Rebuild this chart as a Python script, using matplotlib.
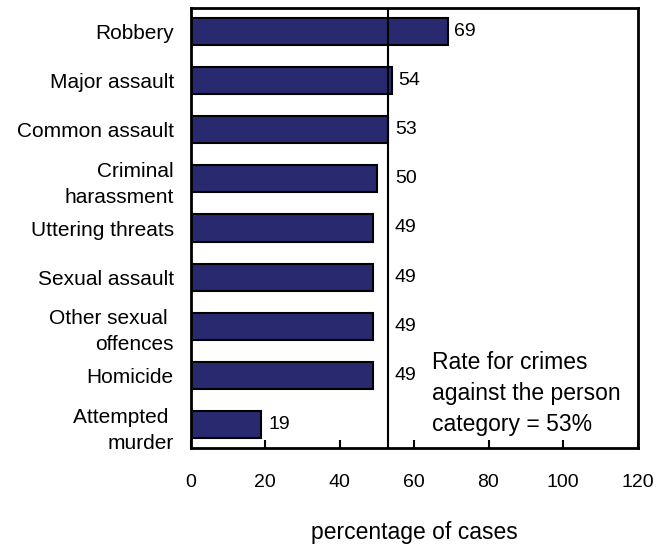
import matplotlib
matplotlib.use("Agg")
import matplotlib.pyplot as plt

plt.rcParams['font.family'] = ['Liberation Sans', 'DejaVu Sans']

categories = ["Robbery", "Major assault", "Common assault", "Criminal\nharassment",
              "Uttering threats", "Sexual assault", "Other sexual \noffences",
              "Homicide", "Attempted \nmurder"]
values = [69, 54, 53, 50, 49, 49, 49, 49, 19]
overall_rate = 53
xticks = [0, 20, 40, 60, 80, 100, 120]
annotation = "Rate for crimes\nagainst the person\ncategory = 53%"
xlabel = "percentage of cases"

fig = plt.figure(figsize=(6.69, 5.46), dpi=100)
ax = fig.add_axes([190.5/669, (546-448)/546, (637.5-190.5)/669, (448-8)/546])

ypos = list(range(len(categories)))
ax.barh(ypos, values, height=0.55, color="#28296f", edgecolor="black", linewidth=1.5, zorder=2)
ax.axvline(overall_rate, color="black", linewidth=1.5, zorder=3)

for y, v in zip(ypos, values):
    # labels of bars ending just short of the reference line are moved past it
    lx = overall_rate if overall_rate - 10 < v < overall_rate else v
    ax.annotate(str(v), xy=(lx, y), xytext=(5, 0), textcoords="offset points",
                ha="left", va="center", fontsize=14)

ax.set_xlim(0, 120)
ax.set_ylim(8.47, -0.47)
ax.set_xticks(xticks)
ax.set_xticklabels([str(t) for t in xticks], fontsize=14)
ax.set_yticks(ypos)
ax.set_yticklabels(categories, fontsize=15, linespacing=1.45)
ax.tick_params(axis="x", direction="in", length=6, width=1.5, pad=19)
ax.tick_params(axis="y", length=0, pad=12)
for s in ax.spines.values():
    s.set_linewidth(2)

ax.text(64.7, 6.5, annotation, ha="left", va="top", fontsize=16.5, linespacing=1.45)

fig.text(414/669, (546-533)/546, xlabel, ha="center", va="center", fontsize=16.5)

fig.savefig("out.png", dpi=100)
